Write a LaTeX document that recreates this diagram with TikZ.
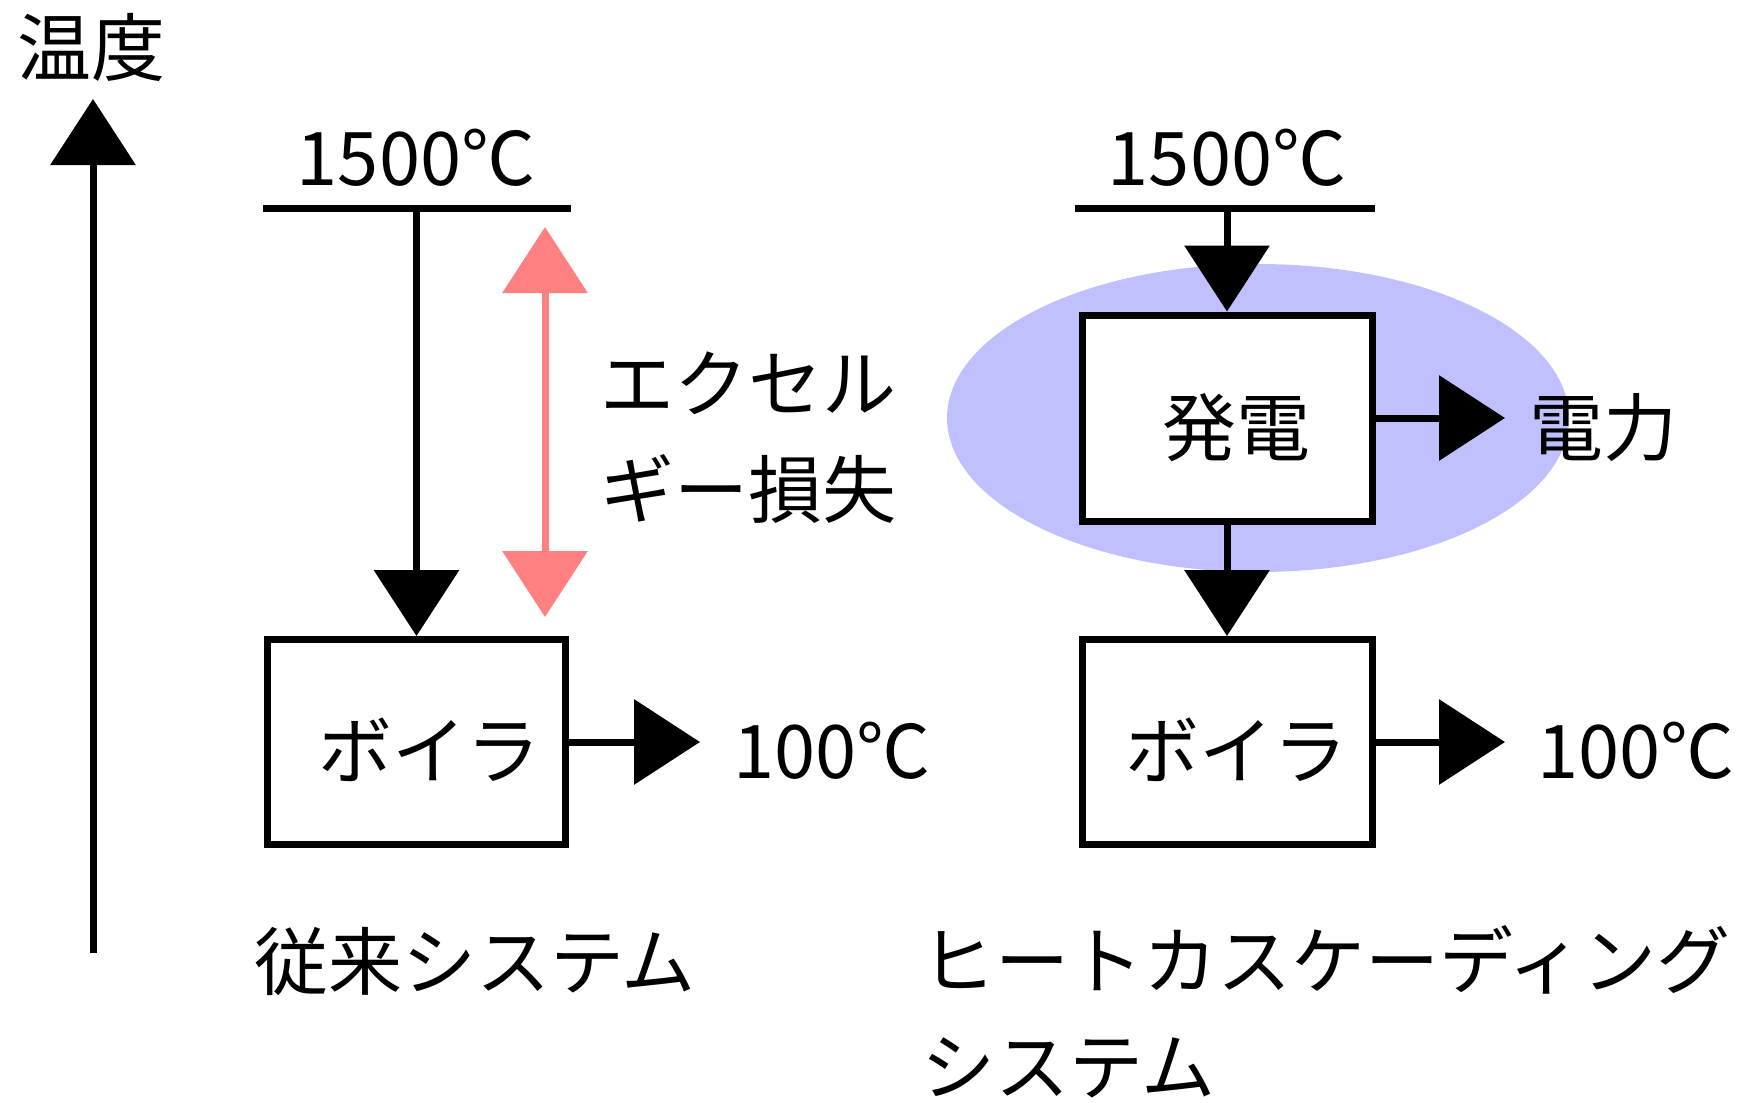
\documentclass[tikz,border=0pt]{standalone}
\usepackage{fontspec}
\usepackage{graphicx}
\setmainfont{Noto Sans CJK JP}
\usetikzlibrary{arrows.meta}
\definecolor{lossred}{RGB}{255,128,128}
\definecolor{genblue}{RGB}{192,192,255}
\tikzset{
  every node/.style={font=\fontsize{37pt}{53pt}\selectfont, inner sep=0pt},
  conn/.style={line width=3.5pt, draw=black},
  arr/.style={conn, -{Triangle[length=33pt,width=42pt]}},
  lossarr/.style={line width=3.5pt, draw=lossred, {Triangle[length=33pt,width=42pt]}-{Triangle[length=33pt,width=42pt]}},
  unit/.style={line width=3.5pt, draw=black, fill=white, minimum height=102.5pt},
  numtext/.style={anchor=base},
}
\begin{document}
\begin{tikzpicture}[x=0.5pt,y=-0.5pt]
\useasboundingbox (0,0) rectangle (1742,1103);
% background ellipse
\fill[genblue] (1258,418) ellipse [x radius=155.5pt, y radius=77pt];

% temperature axis
\node (temp) at (92,47) {温度};
\coordinate (ax0) at (93,953);
\coordinate (ax1) at (93,99);
\draw[arr] (ax0) -- (ax1);

% conventional system
\node[numtext] (ta) at (416,185) {1500℃};
\coordinate (la) at (263,208);
\coordinate (lb) at (571,208);
\coordinate (ta0) at (416.5,208);
\draw[conn] (la) -- (lb);
\node[unit, minimum width=149pt, label={[xshift=6.5pt,yshift=-4pt]center:ボイラ}] (boilA) at (416.5,742) {};
\draw[arr] (ta0) -- (boilA.north);
\coordinate (outA) at (700,742);
\draw[arr] (boilA.east) -- (outA);
\node[anchor=base west] (hA) at (733,778) {100℃};
\coordinate (ex1) at (545,227);
\coordinate (ex2) at (545,617);
\draw[lossarr] (ex1) -- (ex2);
\node[align=left] (loss) at (748,438) {エクセル\\ギー損失};
\node (sysA) at (475,962) {従来システム};

% heat cascading system
\node[numtext] (tb) at (1227,185) {1500℃};
\coordinate (lc) at (1075,208);
\coordinate (ld) at (1375,208);
\coordinate (tb0) at (1227,208);
\draw[conn] (lc) -- (ld);
\node[unit, minimum width=145pt, minimum height=103pt, label={[xshift=4.5pt,yshift=-5pt]center:発電}] (gen) at (1227,418) {};
\draw[arr] (tb0) -- (gen.north);
\coordinate (outG) at (1505,418);
\draw[arr] (gen.east) -- (outG);
\node (power) at (1603,428) {電力};
\node[unit, minimum width=145pt, label={[xshift=4.5pt,yshift=-4pt]center:ボイラ}] (boilB) at (1227,742) {};
\draw[arr] (gen.south) -- (boilB.north);
\coordinate (outB) at (1505,742);
\draw[arr] (boilB.east) -- (outB);
\node[anchor=base west] (hB) at (1537,778) {100℃};
\node[align=left] (sysB) at (1326,1012) {ヒートカスケーディング\\システム};
\end{tikzpicture}
\end{document}
